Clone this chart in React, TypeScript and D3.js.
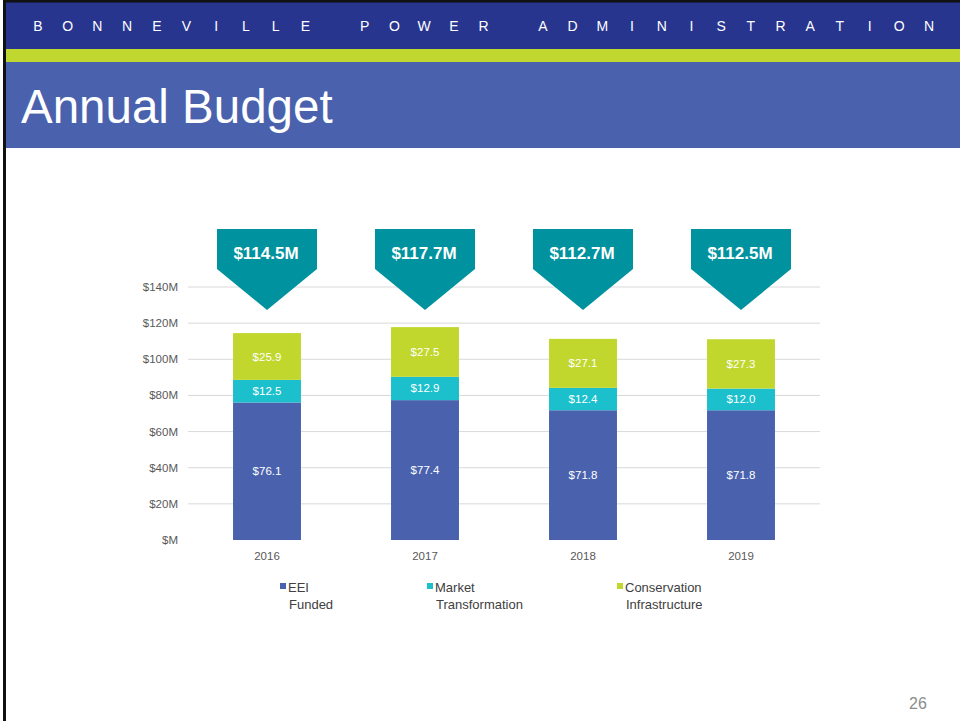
import React from 'react'
import * as d3 from 'd3'

const years = ['2016', '2017', '2018', '2019']
const eeiFunded = [76.1, 77.4, 71.8, 71.8]
const marketTransformation = [12.5, 12.9, 12.4, 12.0]
const conservationInfra = [25.9, 27.5, 27.1, 27.3]
const totalLabels = ['$114.5M', '$117.7M', '$112.7M', '$112.5M']
const yTicks = [0, 20, 40, 60, 80, 100, 120, 140]
const seriesNames = ['EEI Funded', 'Market Transformation', 'Conservation Infrastructure']
const legendLines = [['EEI', 'Funded'], ['Market', 'Transformation'], ['Conservation', 'Infrastructure']]
const seriesColors = ['#4a62ae', '#1cbfcc', '#c1d72e']

const W = 960
const H = 721
const header = 'BONNEVILLE POWER ADMINISTRATION'

export default function App() {
  const margin = { top: 287, right: 140, bottom: 181, left: 188 }
  const innerW = W - margin.left - margin.right
  const innerH = H - margin.top - margin.bottom

  // y domain fixed to the axis range
  const y = d3.scaleLinear().domain([0, 140]).range([innerH, 0])
  const x = d3.scaleBand().domain(years).range([0, innerW]).paddingInner(0.57).paddingOuter(0.285)

  const table = years.map((yr, i) => ({
    year: yr,
    s0: eeiFunded[i],
    s1: marketTransformation[i],
    s2: conservationInfra[i],
  }))
  const stack = d3.stack<any>().keys(['s0', 's1', 's2'])(table)

  const fmt = (v: number) => '$' + v.toFixed(1)
  const headerXs = header.split('').map((_, i) => 38 + i * 29.7)

  const font = 'Liberation Sans, Arial, sans-serif'

  // callout geometry
  const cw = 100
  const cTop = 229
  const cRectBottom = 269
  const cTip = 310

  const legendX = [280, 427, 617]

  return (
    <svg width={W} height={H} style={{ position: 'absolute', left: 0, top: 0, display: 'block' }} fontFamily={font}>
      <rect x={0} y={0} width={W} height={H} fill="#ffffff" />
      {/* slide header */}
      <rect x={3} y={0} width={W - 3} height={49} fill="#27358f" />
      <rect x={3} y={0} width={W - 3} height={2.5} fill="#111111" />
      <rect x={6} y={49} width={W - 6} height={13} fill="#c0d72f" />
      <rect x={6} y={62} width={W - 6} height={86} fill="#4a62ae" />
      <rect x={3} y={0} width={3} height={H} fill="#111111" />
      <text fill="#ffffff" fontSize={14} textAnchor="middle" y={31} x={headerXs.join(' ')}>
        {header}
      </text>
      <text x={21} y={123} fill="#ffffff" fontSize={47.5}>
        Annual Budget
      </text>

      <g transform={`translate(${margin.left},${margin.top})`}>
        {yTicks.map(t => (
          <g key={t}>
            {t > 0 && (
              <line x1={0} x2={innerW} y1={y(t)} y2={y(t)} stroke="#d9d9d9" strokeWidth={1} />
            )}
            <text x={-10} y={y(t)} dy="0.35em" textAnchor="end" fontSize={11.5} fill="#595959">
              {`$${t === 0 ? '' : t}M`}
            </text>
          </g>
        ))}

        {stack.map((layer, si) => (
          <g key={si} fill={seriesColors[si]}>
            {layer.map((d, i) => (
              <rect
                key={i}
                x={x(years[i])}
                y={y(d[1])}
                width={x.bandwidth()}
                height={y(d[0]) - y(d[1])}
              />
            ))}
          </g>
        ))}

        {stack.map((layer, si) =>
          layer.map((d, i) => (
            <text
              key={`${si}-${i}`}
              x={(x(years[i]) as number) + x.bandwidth() / 2}
              y={(y(d[0]) + y(d[1])) / 2}
              dy="0.35em"
              textAnchor="middle"
              fontSize={11.5}
              fill="#ffffff"
            >
              {fmt(d[1] - d[0])}
            </text>
          ))
        )}

        {years.map(yr => (
          <text
            key={yr}
            x={(x(yr) as number) + x.bandwidth() / 2}
            y={innerH + 20}
            textAnchor="middle"
            fontSize={11.5}
            fill="#595959"
          >
            {yr}
          </text>
        ))}
      </g>

      {/* total callouts */}
      {years.map((yr, i) => {
        const cx = margin.left + (x(yr) as number) + x.bandwidth() / 2
        const pts = [
          [cx - cw / 2, cTop],
          [cx + cw / 2, cTop],
          [cx + cw / 2, cRectBottom],
          [cx, cTip],
          [cx - cw / 2, cRectBottom],
        ]
        return (
          <g key={yr}>
            <polygon points={pts.map(p => p.join(',')).join(' ')} fill="#00929e" />
            <text x={cx - 1} y={259} textAnchor="middle" fontSize={17} fontWeight="bold" fill="#ffffff">
              {totalLabels[i]}
            </text>
          </g>
        )
      })}

      {/* legend */}
      {seriesNames.map((name, i) => (
        <g key={name}>
          <rect x={legendX[i]} y={583} width={6} height={6} fill={seriesColors[i]} />
          <text x={legendX[i] + 8} y={592} fontSize={13} fill="#404040">
            {legendLines[i][0]}
          </text>
          <text x={legendX[i] + 9} y={609} fontSize={13} fill="#404040">
            {legendLines[i][1]}
          </text>
        </g>
      ))}

      <text x={918} y={709} textAnchor="middle" fontSize={16} fill="#8c8c8c">
        26
      </text>
    </svg>
  )
}
